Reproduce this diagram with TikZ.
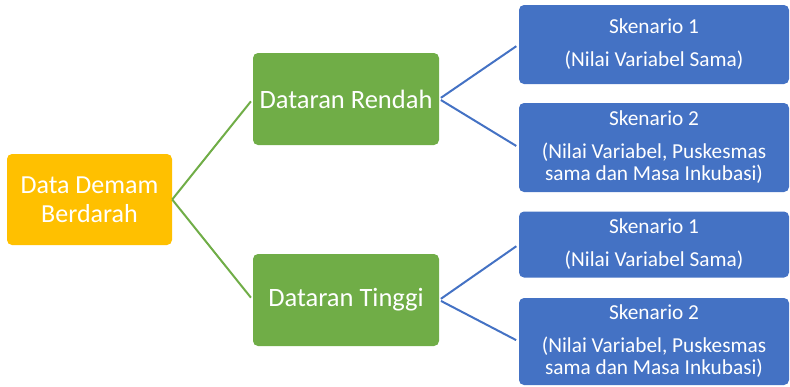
\documentclass[tikz,border=0pt]{standalone}
\usepackage{fontspec}
\setmainfont{Carlito}
\definecolor{rootfill}{HTML}{FFC000}
\definecolor{areafill}{HTML}{70AD47}
\definecolor{scenfill}{HTML}{4472C4}
\tikzset{
  rootbox/.style={fill=rootfill, rounded corners=5pt, text=white, align=center,
    inner sep=0pt, font=\fontsize{26}{29}\selectfont},
  areabox/.style={fill=areafill, rounded corners=5pt, text=white, align=center,
    inner sep=0pt, minimum width=186pt, minimum height=92pt, font=\fontsize{26.5}{29}\selectfont},
  scenbox/.style={fill=scenfill, rounded corners=5pt, text=white, align=center,
    inner sep=0pt, minimum width=270pt, font=\fontsize{21.3}{22}\selectfont},
  areaedge/.style={draw=areafill, line width=2pt, shorten >=3pt},
  scenedge/.style={draw=scenfill, line width=2pt, shorten <=2pt, shorten >=3pt}
}
\begin{document}
\begin{tikzpicture}[x=1pt, y=-1pt]
      \useasboundingbox (0,0) rectangle (790,386);

      \node [rootbox, minimum width=165pt, minimum height=91pt] (root) at (89.5, 199.5) {Data Demam\\Berdarah};

      \node [areabox] (rendah) at (346, 99) {Dataran Rendah};
      \node [areabox] (tinggi) at (346, 300) {Dataran Tinggi};

      \node [scenbox, minimum height=79pt] (rendahA) at (654, 44.5) {Skenario 1\\[11pt](Nilai Variabel Sama)};
      \node [scenbox, minimum height=89pt] (rendahB) at (654, 147.5) {Skenario 2\\[11pt](Nilai Variabel, Puskesmas\\sama dan Masa Inkubasi)};
      \node [scenbox, minimum height=66pt] (tinggiA) at (654, 244.5) {Skenario 1\\[11pt](Nilai Variabel Sama)};
      \node [scenbox, minimum height=87pt] (tinggiB) at (654, 341.5) {Skenario 2\\[11pt](Nilai Variabel, Puskesmas\\sama dan Masa Inkubasi)};

      \draw [areaedge] (root.east) -- (rendah.west);
      \draw [areaedge] (root.east) -- (tinggi.west);

      \draw [scenedge] (rendah.east) -- (rendahA.west);
      \draw [scenedge] (rendah.east) -- (rendahB.west);
      \draw [scenedge] (tinggi.east) -- (tinggiA.west);
      \draw [scenedge] (tinggi.east) -- (tinggiB.west);

\end{tikzpicture}
\end{document}
